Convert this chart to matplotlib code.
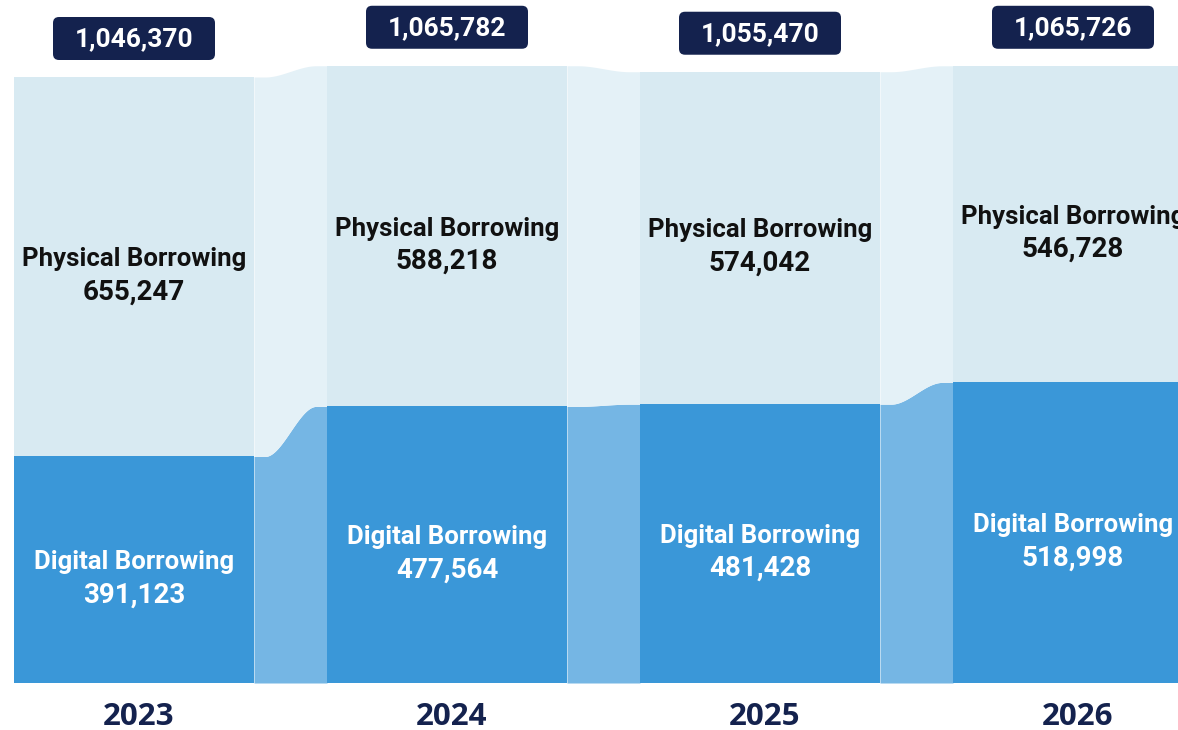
import numpy as np
import matplotlib
matplotlib.use("Agg")
import matplotlib.pyplot as plt
from matplotlib import font_manager
from matplotlib.patches import FancyBboxPatch

years = ["2023", "2024", "2025", "2026"]
physical = [655247, 588218, 574042, 546728]
digital = [391123, 477564, 481428, 518998]
totals = [1046370, 1065782, 1055470, 1065726]

C_PHYS = "#D8EAF2"
C_PHYS_RIB = "#E4F1F7"
C_DIG = "#3A97D8"
C_DIG_RIB = "#75B6E4"
NAVY = "#14224E"

names = {f.name for f in font_manager.fontManager.ttflist}
LABFONT = "Roboto" if "Roboto" in names else "DejaVu Sans"
YEARFONT = "Open Sans" if "Open Sans" in names else "DejaVu Sans"

W, H = 1178, 730
fig = plt.figure(figsize=(W / 100, H / 100), dpi=100)
bottom_px = 683
ax = fig.add_axes([0, (H - bottom_px) / H, 1, bottom_px / H])
upp = 1046370 / 606.0  # data units per pixel
period = 313.0
x0c = 134.0
ax.set_xlim(-x0c / period, (W - x0c) / period)
ax.set_ylim(0, bottom_px * upp)
ax.axis("off")

bw = 240.0 / period
x = np.arange(len(years))

ax.bar(x, digital, width=bw, color=C_DIG, edgecolor="none", zorder=3)
ax.bar(x, physical, bottom=digital, width=bw, color=C_PHYS, edgecolor="none", zorder=3)

def sig(t):
    s = np.clip((t - 0.15) / 0.7, 0, 1)
    return s * s * (3 - 2 * s)

for i in range(len(years) - 1):
    xa = x[i] + bw / 2
    xb = x[i + 1] - bw / 2
    xs = np.linspace(xa, xb, 200)
    t = (xs - xa) / (xb - xa)
    d = digital[i] + (digital[i + 1] - digital[i]) * sig(t)
    tt = totals[i] + (totals[i + 1] - totals[i]) * sig(t)
    ax.fill_between(xs, 0, d, color=C_DIG_RIB, lw=0, zorder=2)
    ax.fill_between(xs, d, tt, color=C_PHYS_RIB, lw=0, zorder=2)

fs_lab = 18.5
fs_val = 20
for i in range(len(years)):
    pm = digital[i] + physical[i] / 2
    dm = digital[i] / 2
    for mid, name, val, col in [(pm, "Physical Borrowing", physical[i], "#111111"),
                                (dm, "Digital Borrowing", digital[i], "white")]:
        ax.text(x[i], mid + 0.5 * upp, name, ha="center", va="baseline",
                fontsize=fs_lab, fontweight="bold", family=LABFONT, color=col, zorder=5)
        ax.text(x[i], mid - 11.5 * upp, f"{val:,}", ha="center", va="top",
                fontsize=fs_val, fontweight="bold", family=LABFONT, color=col, zorder=5)
    # total box
    cy = totals[i] + 38.5 * upp
    bwid = 162 / period
    bh = 43 * upp
    box = FancyBboxPatch((x[i] - bwid / 2, cy - bh / 2), bwid, bh,
                         boxstyle="round,pad=0,rounding_size=%f" % (6 / period),
                         mutation_aspect=upp * period,
                         fc=NAVY, ec="none", zorder=6, clip_on=False)
    ax.add_patch(box)
    ax.text(x[i], cy - 1 * upp, f"{totals[i]:,}", ha="center", va="center",
            fontsize=19, fontweight="bold", family=LABFONT, color="white",
            zorder=7, clip_on=False)
    ax.text(x[i] + 5 / period, -34 * upp, years[i], ha="center", va="center",
            fontsize=22.5, fontweight="bold", family=YEARFONT, color=NAVY, clip_on=False)

fig.savefig("out.png", dpi=100)
